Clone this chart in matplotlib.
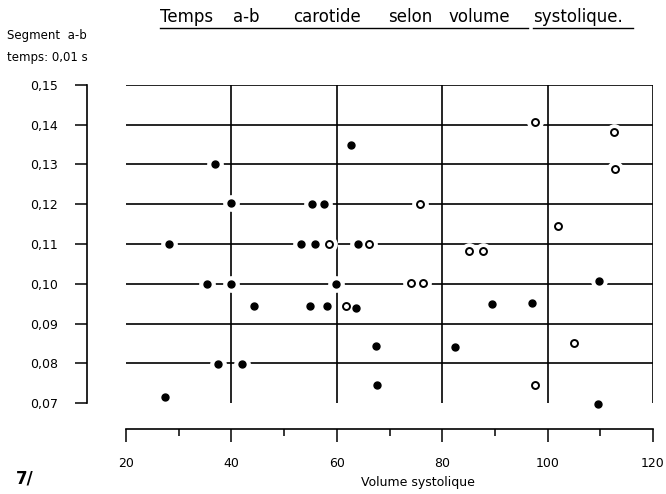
import matplotlib.pyplot as plt
from matplotlib.lines import Line2D
from matplotlib.ticker import FuncFormatter

# ---------------------------------------------------------
# Data
# ---------------------------------------------------------

# filled dots
filled_x = [27.4, 28.2, 35.4, 36.8, 37.5, 40.0, 40.0, 42.1, 44.3, 53.3, 55.0, 55.2, 55.8,
            57.5, 58.1, 59.9, 62.7, 63.6, 64.0, 67.5, 67.7, 82.5, 89.5, 97.1, 109.5, 109.8]
filled_y = [0.0716, 0.110, 0.100, 0.130, 0.0798, 0.1203, 0.100, 0.0799, 0.0943, 0.110, 0.0944,
            0.120, 0.110, 0.120, 0.0944, 0.100, 0.1348, 0.0940, 0.110, 0.0843, 0.0745, 0.0841,
            0.0950, 0.0951, 0.0698, 0.1006]

# open circles
open_x = [58.5, 61.8, 66.1, 74.1, 75.8, 76.4, 85.1, 87.8, 97.6, 97.6, 102.0, 105.0, 112.6, 112.7]
open_y = [0.110, 0.0943, 0.110, 0.1003, 0.1201, 0.1003, 0.1083, 0.1083, 0.1406, 0.0745,
          0.1145, 0.0852, 0.1381, 0.1289]

x_ticks = [20, 40, 60, 80, 100, 120]
x_minor = [30, 50, 70, 90, 110]
y_ticks = [0.07, 0.08, 0.09, 0.10, 0.11, 0.12, 0.13, 0.14, 0.15]
h_lines = [0.08, 0.09, 0.10, 0.11, 0.12, 0.13, 0.14, 0.15]
v_lines = [40, 60, 80, 100, 120]

title_words = ["Temps", "a-b", "carotide", "selon", "volume", "systolique."]
title_x_px = [160, 233, 293, 388, 448, 533]

# ---------------------------------------------------------
# Figure
# ---------------------------------------------------------

W, H = 666, 494
fig = plt.figure(figsize=(W / 100, H / 100), dpi=100)
ax = fig.add_axes([126 / W, 1 - 403 / H, (653 - 126) / W, (403 - 85) / H])

ax.set_xlim(20, 120)
ax.set_ylim(0.07, 0.15)

# hand-drawn style grid
ax.hlines(h_lines, 20, 120, color="black", linewidth=1.2, zorder=1)
ax.vlines(v_lines, 0.07, 0.15, color="black", linewidth=1.2, zorder=1)

# white halo around points (gaps in the grid lines)
all_x = filled_x + open_x
all_y = filled_y + open_y
ax.plot(all_x, all_y, linestyle="none", marker="o", markersize=11,
        color="white", markeredgecolor="white", zorder=2, clip_on=False)

ax.plot(filled_x, filled_y, linestyle="none", marker="o", markersize=5,
        color="black", markeredgecolor="black", zorder=3, clip_on=False)
ax.plot(open_x, open_y, linestyle="none", marker="o", markersize=5,
        markerfacecolor="white", markeredgecolor="black", markeredgewidth=1.4,
        zorder=3, clip_on=False)

# ---------------------------------------------------------
# Axes: detached spines with outward ticks
# ---------------------------------------------------------

ax.spines["top"].set_visible(False)
ax.spines["right"].set_visible(False)
ax.spines["left"].set_position(("outward", 28))
ax.spines["bottom"].set_position(("outward", 19))
ax.spines["left"].set_bounds(0.07, 0.15)
ax.spines["bottom"].set_bounds(20, 120)
ax.spines["left"].set_linewidth(1.2)
ax.spines["bottom"].set_linewidth(1.2)

ax.set_xticks(x_ticks)
ax.set_xticks(x_minor, minor=True)
ax.set_yticks(y_ticks)
ax.yaxis.set_major_formatter(FuncFormatter(lambda v, p: f"{v:.2f}".replace(".", ",")))

ax.tick_params(axis="x", which="major", direction="out", length=9, width=1.1,
               pad=11, labelsize=9)
ax.tick_params(axis="x", which="minor", direction="out", length=5, width=1.1)
ax.tick_params(axis="y", which="major", direction="out", length=9, width=1.1,
               pad=12, labelsize=9)

# ---------------------------------------------------------
# Texts
# ---------------------------------------------------------

for word, xp in zip(title_words, title_x_px):
    fig.text(xp / W, 1 - 21.5 / H, word, fontsize=12, ha="left", va="baseline")

for x0, x1 in [(160, 528), (533, 633)]:
    fig.add_artist(Line2D([x0 / W, x1 / W], [1 - 28.5 / H, 1 - 28.5 / H],
                          color="black", linewidth=1.0))

fig.text(7 / W, 1 - 35 / H, "Segment  a-b", fontsize=8.5, ha="left", va="center")
fig.text(7 / W, 1 - 57 / H, "temps: 0,01 s", fontsize=8.5, ha="left", va="center")

fig.text(418 / W, 1 - 482 / H, "Volume systolique", fontsize=9, ha="center", va="center")
fig.text(16 / W, 1 - 478 / H, "7/", fontsize=12, fontweight="bold", ha="left", va="center")

fig.savefig("out.png", dpi=100)
